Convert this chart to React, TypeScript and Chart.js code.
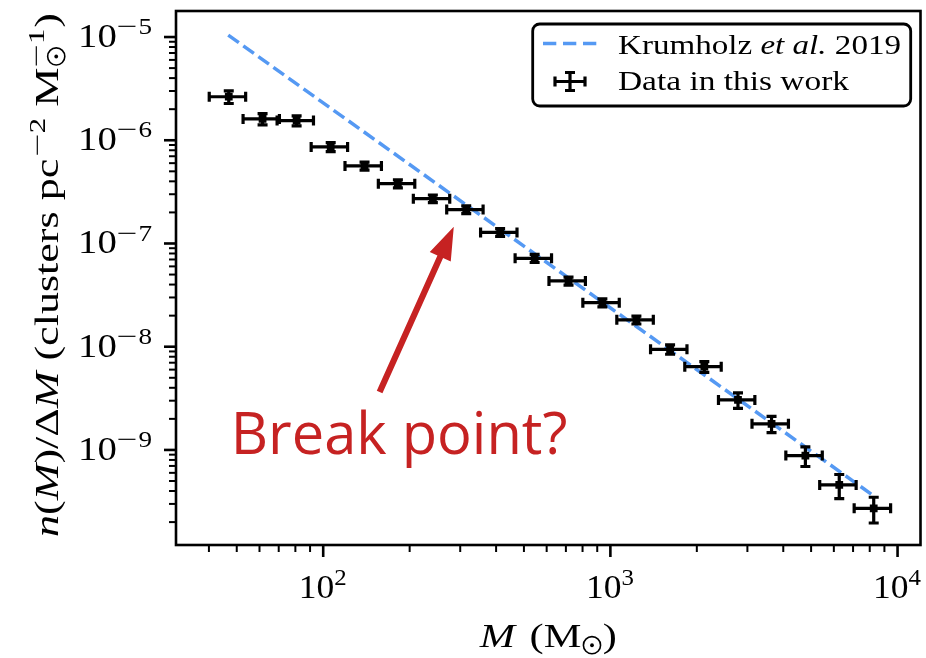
import React, { useEffect, useRef } from 'react';
import { Chart, registerables } from 'chart.js';
Chart.register(...registerables);

// ---- data ----
const massBins = [46.9, 61.5, 80.8, 106.2, 139.3, 182.0, 240.9, 314.8, 413.1, 544.9, 714.9, 937.9, 1232, 1614, 2124, 2782, 3641, 4776, 6266, 8260];
const massErr = [6.8, 8.9, 11.7, 15.4, 20.2, 26.4, 34.9, 45.6, 59.9, 79.0, 103.7, 136, 179, 234, 308, 403, 528, 693, 909, 1198];
const density = [2.64e-6, 1.61e-6, 1.55e-6, 8.61e-7, 5.64e-7, 3.80e-7, 2.72e-7, 2.13e-7, 1.28e-7, 7.19e-8, 4.34e-8, 2.67e-8, 1.82e-8, 9.44e-9, 6.41e-9, 3.05e-9, 1.79e-9, 8.81e-10, 4.58e-10, 2.72e-10];
const densityErr = [3.7e-7, 2.0e-7, 1.7e-7, 8.6e-8, 5.1e-8, 3.4e-8, 2.3e-8, 1.8e-8, 1.1e-8, 6.5e-9, 3.9e-9, 2.4e-9, 1.6e-9, 9.9e-10, 7.6e-10, 5.2e-10, 3.2e-10, 1.9e-10, 1.2e-10, 7.6e-11];
const krumholzMass = [46.7, 8365];
const krumholzDensity = [1.045e-5, 3.5e-10];

const xMajorTicks = [1e2, 1e3, 1e4];
const xMajorExp = ['2', '3', '4'];
const yMajorTicks = [1e-5, 1e-6, 1e-7, 1e-8, 1e-9];
const yMajorExp = ['5', '6', '7', '8', '9'];
const X_MIN = 30.72, X_MAX = 12020;
const Y_MIN = 1.2e-10, Y_MAX = 1.787e-5;

const annotationText = 'Break point?';
const arrowTail = { x: 157.2, y: 3.65e-9 };
const arrowTip = { x: 284.9, y: 1.455e-7 };
const textAnchor = { x: 49.6, y: 9.09e-10 };

const legendLabels = ['Krumholz ', 'et al.', ' 2019', 'Data in this work'];

const BLUE = '#5599f3';
const RED = '#c62222';
const SERIF = '"Liberation Serif", "DejaVu Serif", serif';
const F = 34;

type Run = { t?: string; s?: number; it?: boolean; dy?: number; back?: boolean; sun?: boolean; sx?: number; pad?: number };

let STRETCH = 1;

function runFont(r: Run, size: number) {
  return `${r.it ? 'italic ' : ''}${size * (r.s ?? 1)}px ${SERIF}`;
}
function runW(ctx: CanvasRenderingContext2D, r: Run, size: number) {
  if (r.sun) return size * (r.s ?? 1) * 0.8 * Math.max(1, STRETCH * 0.9) + (r.pad ?? 0);
  ctx.font = runFont(r, size);
  return ctx.measureText(r.t || '').width * STRETCH * (r.sx ?? 1) + (r.pad ?? 0);
}
function totalW(ctx: CanvasRenderingContext2D, runs: Run[], size: number) {
  let w = 0, back = 0;
  for (const r of runs) {
    const rw = runW(ctx, r, size);
    if (r.back) { back = rw; continue; }
    w += Math.max(rw, back); back = 0;
  }
  return w;
}
function drawRuns(ctx: CanvasRenderingContext2D, runs: Run[], x: number, y: number, size: number, align: 'left' | 'center' | 'right', targetW?: number) {
  STRETCH = 1;
  if (targetW) {
    for (let k = 0; k < 4; k++) {
      const w = totalW(ctx, runs, size);
      STRETCH = STRETCH * targetW / w;
    }
  }
  const tw = totalW(ctx, runs, size);
  let cx = align === 'left' ? x : align === 'center' ? x - tw / 2 : x - tw;
  let back = 0;
  ctx.textAlign = 'left';
  ctx.textBaseline = 'alphabetic';
  ctx.fillStyle = '#000';
  ctx.strokeStyle = '#000';
  for (const r of runs) {
    const rw = runW(ctx, r, size);
    const by = y + (r.dy ?? 0) * size;
    if (r.sun) {
      const rad = size * (r.s ?? 1) * 0.36;
      const ccx = cx + rw / 2, ccy = by - rad;
      ctx.lineWidth = 1.6;
      ctx.beginPath(); ctx.arc(ccx, ccy, rad, 0, Math.PI * 2); ctx.stroke();
      ctx.beginPath(); ctx.arc(ccx, ccy, 1.9, 0, Math.PI * 2); ctx.fill();
    } else {
      ctx.font = runFont(r, size);
      ctx.save();
      ctx.translate(cx, by);
      ctx.scale(STRETCH * (r.sx ?? 1), 1);
      ctx.fillText(r.t || '', 0, 0);
      ctx.restore();
    }
    if (r.back) { back = rw; continue; }
    cx += Math.max(rw, back); back = 0;
  }
}

const decorPlugin = {
  id: 'decor',
  beforeDatasetDraw(chart: any, args: any) {
    if (args.index !== 1) return;
    const ctx: CanvasRenderingContext2D = chart.ctx;
    const xs = chart.scales.x, ys = chart.scales.y;
    ctx.save();
    ctx.strokeStyle = '#000';
    ctx.lineWidth = 3.2;
    ctx.lineCap = 'butt';
    const cap = 5;
    massBins.forEach((m, i) => {
      const px = xs.getPixelForValue(m);
      const py = ys.getPixelForValue(density[i]);
      const x0 = xs.getPixelForValue(m - massErr[i]);
      const x1 = xs.getPixelForValue(m + massErr[i]);
      const y0 = ys.getPixelForValue(density[i] - densityErr[i]);
      const y1 = ys.getPixelForValue(density[i] + densityErr[i]);
      ctx.beginPath();
      ctx.moveTo(x0, py); ctx.lineTo(x1, py);
      ctx.moveTo(px, y0); ctx.lineTo(px, y1);
      ctx.moveTo(x0, py - cap); ctx.lineTo(x0, py + cap);
      ctx.moveTo(x1, py - cap); ctx.lineTo(x1, py + cap);
      ctx.moveTo(px - cap, y0); ctx.lineTo(px + cap, y0);
      ctx.moveTo(px - cap, y1); ctx.lineTo(px + cap, y1);
      ctx.stroke();
    });
    ctx.restore();
  },
  afterDraw(chart: any) {
    const ctx: CanvasRenderingContext2D = chart.ctx;
    const a = chart.chartArea;
    const xs = chart.scales.x, ys = chart.scales.y;
    ctx.save();
    // frame
    ctx.strokeStyle = '#000';
    ctx.lineWidth = 2.6;
    ctx.strokeRect(a.left, a.top, a.right - a.left, a.bottom - a.top);

    // ticks
    const tick = (x0: number, y0: number, x1: number, y1: number, w: number) => {
      ctx.lineWidth = w; ctx.beginPath(); ctx.moveTo(x0, y0); ctx.lineTo(x1, y1); ctx.stroke();
    };
    for (let e = 1; e <= 4; e++) {
      for (let k = 2; k <= 9; k++) {
        const v = k * Math.pow(10, e);
        if (v < X_MIN || v > X_MAX) continue;
        const px = xs.getPixelForValue(v);
        tick(px, a.bottom, px, a.bottom + 7, 2.0);
      }
    }
    for (let e = -11; e <= -5; e++) {
      for (let k = 2; k <= 9; k++) {
        const v = k * Math.pow(10, e);
        if (v < Y_MIN || v > Y_MAX) continue;
        const py = ys.getPixelForValue(v);
        tick(a.left - 7, py, a.left, py, 2.0);
      }
    }
    xMajorTicks.forEach((v, i) => {
      const px = xs.getPixelForValue(v);
      tick(px, a.bottom, px, a.bottom + 12, 2.6);
      drawRuns(ctx, [{ t: '10' }, { t: xMajorExp[i], s: 0.7, dy: -0.38, pad: 1 }], px, a.bottom + 53, F, 'center', 49);
    });
    yMajorTicks.forEach((v, i) => {
      const py = ys.getPixelForValue(v);
      tick(a.left - 12, py, a.left, py, 2.6);
      drawRuns(ctx, [{ t: '10' }, { t: '−', s: 0.7, dy: -0.38, sx: 1.35, pad: 1 }, { t: yMajorExp[i], s: 0.7, dy: -0.38 }], a.left - 24, py + 10, F, 'right', 74);
    });

    // axis labels
    drawRuns(ctx, [{ t: 'M', it: true, pad: 4 }, { t: ' (M' }, { sun: true, s: 0.7, dy: 0.2 }, { t: ')' }], (a.left + a.right) / 2, 647, F, 'center', 137);
    ctx.save();
    ctx.translate(58, 275);
    ctx.rotate(-Math.PI / 2);
    drawRuns(ctx, [
      { t: 'n', it: true }, { t: '(' }, { t: 'M', it: true }, { t: ')/Δ' }, { t: 'M', it: true },
      { t: ' (clusters pc', pad: 2 }, { t: '−', s: 0.7, dy: -0.38, sx: 1.35 }, { t: '2', s: 0.7, dy: -0.38 }, { t: ' M' },
      { sun: true, s: 0.7, dy: 0.2, back: true }, { t: '−', s: 0.7, dy: -0.42, sx: 1.35 }, { t: '1', s: 0.7, dy: -0.42, pad: 1 }, { t: ')' },
    ], 0, 0, F, 'center', 524);
    ctx.restore();

    // legend
    const lx = 532.7, ly = 24, lw = 378, lh = 82, rr = 7;
    ctx.beginPath();
    ctx.moveTo(lx + rr, ly);
    ctx.arcTo(lx + lw, ly, lx + lw, ly + lh, rr);
    ctx.arcTo(lx + lw, ly + lh, lx, ly + lh, rr);
    ctx.arcTo(lx, ly + lh, lx, ly, rr);
    ctx.arcTo(lx, ly, lx + lw, ly, rr);
    ctx.closePath();
    ctx.fillStyle = 'rgba(255,255,255,0.85)';
    ctx.fill();
    ctx.lineWidth = 2.8;
    ctx.strokeStyle = '#000';
    ctx.stroke();
    ctx.save();
    ctx.strokeStyle = BLUE; ctx.lineWidth = 3.5; ctx.setLineDash([13.3, 6.7]);
    ctx.beginPath(); ctx.moveTo(543, 43.5); ctx.lineTo(597, 43.5); ctx.stroke();
    ctx.restore();
    ctx.strokeStyle = '#000'; ctx.lineWidth = 3.2;
    const ecx = 570, ecy = 81.5;
    ctx.beginPath();
    ctx.moveTo(ecx - 15, ecy); ctx.lineTo(ecx + 15, ecy);
    ctx.moveTo(ecx, ecy - 9); ctx.lineTo(ecx, ecy + 9);
    ctx.moveTo(ecx - 15, ecy - 5); ctx.lineTo(ecx - 15, ecy + 5);
    ctx.moveTo(ecx + 15, ecy - 5); ctx.lineTo(ecx + 15, ecy + 5);
    ctx.moveTo(ecx - 5, ecy - 9); ctx.lineTo(ecx + 5, ecy - 9);
    ctx.moveTo(ecx - 5, ecy + 9); ctx.lineTo(ecx + 5, ecy + 9);
    ctx.stroke();
    const LF = 27.5;
    drawRuns(ctx, [{ t: legendLabels[0] }, { t: legendLabels[1], it: true }, { t: legendLabels[2] }], 618, 53.5, LF, 'left', 283);
    drawRuns(ctx, [{ t: legendLabels[3] }], 618, 90, LF, 'left', 231);

    // annotation arrow
    const tx = xs.getPixelForValue(arrowTip.x), ty = ys.getPixelForValue(arrowTip.y);
    const sx = xs.getPixelForValue(arrowTail.x), sy = ys.getPixelForValue(arrowTail.y);
    const dx = tx - sx, dy = ty - sy, len = Math.hypot(dx, dy);
    const ux = dx / len, uy = dy / len, nx = -uy, ny = ux;
    const headL = 33, headW = 11.5, shaftW = 3.1;
    const bx = tx - ux * headL, by = ty - uy * headL;
    ctx.fillStyle = RED;
    ctx.beginPath();
    ctx.moveTo(sx + nx * shaftW, sy + ny * shaftW);
    ctx.lineTo(bx + nx * shaftW, by + ny * shaftW);
    ctx.lineTo(bx + nx * headW, by + ny * headW);
    ctx.lineTo(tx, ty);
    ctx.lineTo(bx - nx * headW, by - ny * headW);
    ctx.lineTo(bx - nx * shaftW, by - ny * shaftW);
    ctx.lineTo(sx - nx * shaftW, sy - ny * shaftW);
    ctx.closePath();
    ctx.fill();

    // annotation text
    const txp = xs.getPixelForValue(textAnchor.x), typ = ys.getPixelForValue(textAnchor.y);
    ctx.font = `60px "Open Sans", "Noto Sans", sans-serif`;
    const m = ctx.measureText(annotationText);
    const inkW = m.actualBoundingBoxLeft + m.actualBoundingBoxRight;
    const size = 60 * 331 / inkW;
    ctx.font = `${size}px "Open Sans", "Noto Sans", sans-serif`;
    const m2 = ctx.measureText(annotationText);
    ctx.textAlign = 'left'; ctx.textBaseline = 'alphabetic';
    ctx.fillText(annotationText, txp + m2.actualBoundingBoxLeft, typ);
    ctx.restore();
  },
};

export default function App() {
  const ref = useRef<HTMLCanvasElement | null>(null);
  useEffect(() => {
    if (!ref.current) return;
    const chart = new Chart(ref.current, {
      type: 'scatter',
      data: {
        datasets: [
          {
            label: 'Krumholz et al. 2019',
            data: krumholzMass.map((x, i) => ({ x, y: krumholzDensity[i] })),
            showLine: true,
            borderColor: BLUE,
            borderWidth: 3.5,
            borderDash: [13, 5.5],
            pointRadius: 0,
            order: 2,
          } as any,
          {
            label: 'Data in this work',
            data: massBins.map((x, i) => ({ x, y: density[i] })),
            pointStyle: 'rect',
            pointRadius: 5.5,
            backgroundColor: '#000',
            borderColor: '#000',
            borderWidth: 0,
            order: 1,
          } as any,
        ],
      },
      options: {
        animation: false,
        responsive: false,
        devicePixelRatio: 1,
        layout: { padding: { top: 11, right: 4, left: 0, bottom: 0 } },
        plugins: { legend: { display: false }, tooltip: { enabled: false } },
        scales: {
          x: {
            type: 'logarithmic', min: X_MIN, max: X_MAX,
            grid: { display: false }, ticks: { display: false }, border: { display: false },
            afterFit: (s: any) => { s.height = 113; },
          },
          y: {
            type: 'logarithmic', min: Y_MIN, max: Y_MAX,
            grid: { display: false }, ticks: { display: false }, border: { display: false },
            afterFit: (s: any) => { s.width = 176; },
          },
        },
      } as any,
      plugins: [decorPlugin],
    });
    if ((document as any).fonts) {
      Promise.all([
        document.fonts.load(`34px "Liberation Serif"`),
        document.fonts.load(`italic 34px "Liberation Serif"`),
        document.fonts.load(`60px "Open Sans"`),
      ]).then(() => chart.draw()).catch(() => {});
    }
    return () => chart.destroy();
  }, []);
  return (
    <div style={{ position: 'fixed', left: 0, top: 0, width: 926, height: 658, background: '#fff' }}>
      <canvas ref={ref} width={926} height={658} style={{ display: 'block' }} />
    </div>
  );
}
